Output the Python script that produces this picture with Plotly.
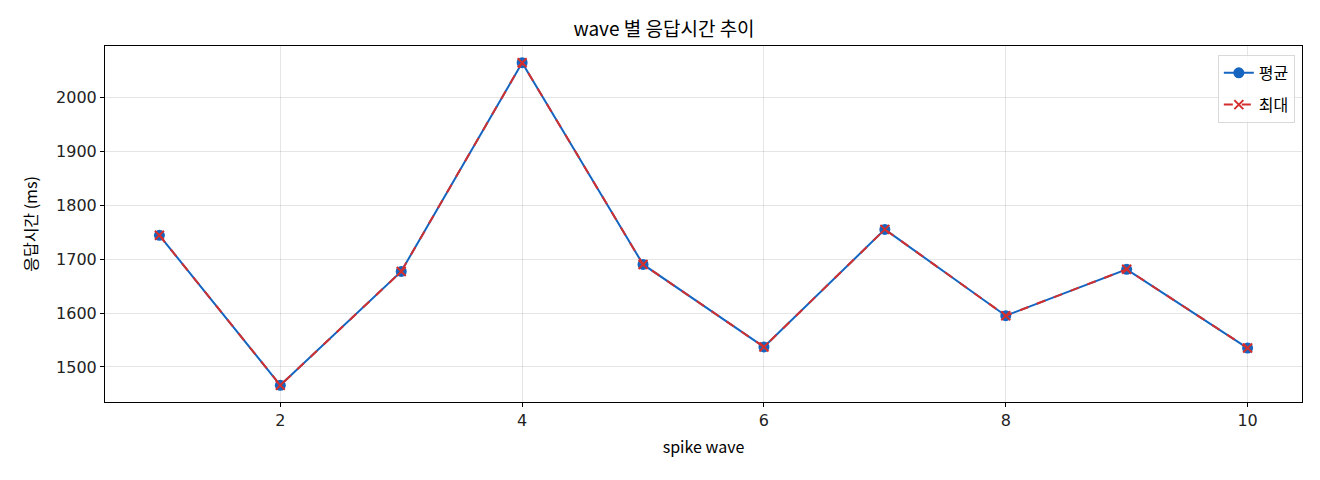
import plotly.graph_objects as go

waves = [1, 2, 3, 4, 5, 6, 7, 8, 9, 10]
avg_ms = [1744, 1466, 1677, 2064, 1690, 1537, 1755, 1595, 1681, 1535]
max_ms = [1744, 1466, 1677, 2064, 1690, 1537, 1755, 1595, 1681, 1535]

BLUE = "#1565C0"
RED = "#D32F2F"
KR_FONT = "Noto Sans CJK KR"
TICK_FONT = "DejaVu Sans"

fig = go.Figure()
fig.add_trace(go.Scatter(
    x=waves, y=avg_ms, mode="lines+markers", name="평균", legendgroup="avg",
    line=dict(color=BLUE, width=2),
    marker=dict(symbol="circle", size=11, color=BLUE),
))
fig.add_trace(go.Scatter(
    x=waves, y=max_ms, mode="lines+markers", name="최대", legendgroup="max",
    line=dict(color=RED, width=2, dash="dash"),
    marker=dict(symbol="x-thin", size=9, color=RED, line=dict(color=RED, width=2)),
))

axis_common = dict(
    showline=True, linecolor="black", linewidth=1, mirror=True,
    ticks="outside", ticklen=4, tickcolor="black",
    showgrid=True, gridcolor="rgba(0,0,0,0.1)", gridwidth=1,
    zeroline=False, tickfont=dict(size=16, color="#222", family=TICK_FONT),
)

fig.update_xaxes(
    range=[0.55, 10.45], tickvals=[2, 4, 6, 8, 10],
    title=dict(text="spike wave", font=dict(size=16, color="black", family=KR_FONT), standoff=12),
    **axis_common,
)
fig.update_yaxes(
    range=[1435, 2095], tickvals=[1500, 1600, 1700, 1800, 1900, 2000],
    title=dict(text="응답시간 (ms)", font=dict(size=16, color="black", family=KR_FONT), standoff=14),
    **axis_common,
)

# page has an 8px body margin, so the figure is sized to land the plot area
# at the same pixels as the reference
fig.update_layout(
    width=1312, height=472,
    margin=dict(l=97, r=18, t=38, b=78),
    plot_bgcolor="white", paper_bgcolor="white",
    font=dict(family=KR_FONT, color="black"),
    title=dict(text="wave 별 응답시간 추이", x=0.5, xanchor="center", y=0.955,
               yanchor="middle", font=dict(size=19, color="black", family=KR_FONT)),
    legend=dict(x=0.994, y=0.975, xanchor="right", yanchor="top",
                bordercolor="#d9d9d9", borderwidth=1, bgcolor="rgba(255,255,255,0.8)",
                font=dict(size=16, family=KR_FONT), tracegroupgap=8),
    showlegend=True,
)

fig.write_html("out.html")
